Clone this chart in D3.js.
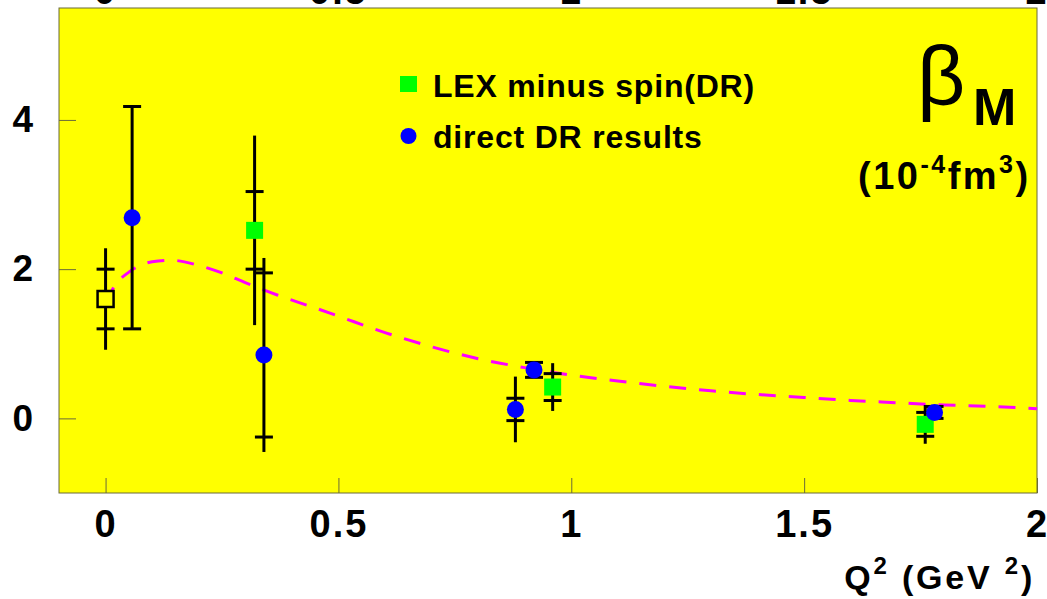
<!DOCTYPE html>
<html>
<head>
<meta charset="utf-8">
<script src="https://cdn.jsdelivr.net/npm/d3@7"></script>
<style>
  body { margin: 0; background: #fff; }
  text { font-family: "Liberation Sans", Arial, Helvetica, sans-serif; }
</style>
</head>
<body>
<svg id="chart"></svg>
<script>
// tick values
let xTicks = [0, 0.5, 1, 1.5, 2]
let yTicks = [0, 2, 4]

// open square at Q2 = 0
let realQ2 = [0]
let realBeta = [1.6]
let realStat = [0.4]
let realTot = [0.68]

// LEX minus spin(DR)
let lexQ2 = [0.32, 0.96, 1.76]
let lexBeta = [2.52, 0.42, -0.08]
let lexStat = [0.52, 0.18, 0.16]
let lexTot = [1.27, 0.32, 0.26]

// direct DR results
let drQ2 = [0.057, 0.34, 0.88, 0.92, 1.78]
let drBeta = [2.69, 0.85, 0.12, 0.65, 0.08]
let drStat = [1.49, 1.1, 0.15, 0.1, 0.08]
let drTot = [1.49, 1.3, 0.44, 0.1, 0.08]

// dashed DR curve
let curveQ2 = [0, 0.02, 0.05, 0.1, 0.14, 0.2, 0.25, 0.3, 0.37, 0.45, 0.5, 0.6, 0.7, 0.8, 0.9, 1.0, 1.1, 1.2, 1.3, 1.4, 1.5, 1.6, 1.7, 1.8, 1.9, 2.0]
let curveBeta = [1.55, 1.78, 1.96, 2.1, 2.12, 2.05, 1.95, 1.82, 1.65, 1.48, 1.37, 1.15, 0.96, 0.8, 0.68, 0.58, 0.5, 0.43, 0.37, 0.32, 0.28, 0.24, 0.21, 0.18, 0.16, 0.13]

let svgWidth = 1047, svgHeight = 599
let padLeft = 59, padRight = 1037, padTop = 8, padBottom = 493

let svg = d3.select('#chart')
  .attr("width", svgWidth)
  .attr("height", svgHeight)

let x = d3.scaleLinear().domain([-0.1, 2.0]).range([padLeft, padRight])
let y = d3.scaleLinear().domain([-1, 5.5]).range([padBottom, padTop])

// tick labels of the panel above, only their bottoms show
svg.selectAll("text.topLab")
  .data(xTicks)
  .enter()
  .append("text")
  .attr("class", "topLab")
  .attr("x", d => x(d))
  .attr("y", 4)
  .attr("text-anchor", "middle")
  .attr("font-size", 38)
  .attr("font-weight", "bold")
  .attr("letter-spacing", 2)
  .text(d => d)

// frame
svg.append("rect")
  .attr("x", padLeft).attr("y", padTop)
  .attr("width", padRight - padLeft).attr("height", padBottom - padTop)
  .attr("fill", "#ffff00")
  .attr("stroke", "#6b6b3a")
  .attr("stroke-width", 1)

// axes
let xAxis = d3.axisBottom(x).tickValues(xTicks).tickSize(-15).tickPadding(17).tickFormat(d3.format("~g"))
let yAxis = d3.axisLeft(y).tickValues(yTicks).tickSize(-17).tickPadding(26).tickFormat(d3.format("d"))

let gx = svg.append("g").attr("transform", "translate(0," + padBottom + ")").call(xAxis)
let gy = svg.append("g").attr("transform", "translate(" + padLeft + ",0)").call(yAxis)

for (let g of [gx, gy]) {
  g.select(".domain").remove()
  g.selectAll(".tick line").attr("stroke", "#6b6b3a").attr("stroke-width", 1)
  g.selectAll(".tick text")
    .attr("font-size", 37)
    .attr("font-weight", "bold")
    .attr("fill", "#000")
    .style("font-family", '"Liberation Sans", Arial, sans-serif')
}
gx.selectAll(".tick text").attr("font-size", 38).attr("letter-spacing", 2)

// dashed curve
let curvePts = curveQ2.map((q, i) => [q, curveBeta[i]])
let line = d3.line()
  .x(d => x(d[0]))
  .y(d => y(d[1]))
  .curve(d3.curveMonotoneX)

svg.append("path")
  .datum(curvePts)
  .attr("d", line)
  .attr("fill", "none")
  .attr("stroke", "#ff00ff")
  .attr("stroke-width", 3)
  .attr("stroke-dasharray", "17 13")

// error bars: line spans total error, crossbars at stat error
function errorBars(qs, vals, stat, tot) {
  let rows = qs.map((q, i) => ({q: q, v: vals[i], s: stat[i], t: tot[i]}))
  let g = svg.append("g").attr("stroke", "#000").attr("stroke-width", 3)
  g.selectAll("line.v")
    .data(rows)
    .enter()
    .append("line")
    .attr("x1", d => x(d.q)).attr("x2", d => x(d.q))
    .attr("y1", d => y(d.v + d.t)).attr("y2", d => y(d.v - d.t))
  for (let sign of [1, -1]) {
    g.selectAll("line.c" + sign)
      .data(rows)
      .enter()
      .append("line")
      .attr("x1", d => x(d.q) - 9).attr("x2", d => x(d.q) + 9)
      .attr("y1", d => y(d.v + sign * d.s)).attr("y2", d => y(d.v + sign * d.s))
  }
}

errorBars(realQ2, realBeta, realStat, realTot)
errorBars(lexQ2, lexBeta, lexStat, lexTot)
errorBars(drQ2, drBeta, drStat, drTot)

// markers
svg.selectAll("rect.real")
  .data(realQ2)
  .enter()
  .append("rect")
  .attr("x", d => x(d) - 8).attr("y", (d, i) => y(realBeta[i]) - 8)
  .attr("width", 16).attr("height", 16)
  .attr("fill", "#ffff00")
  .attr("stroke", "#000")
  .attr("stroke-width", 2.5)

svg.selectAll("rect.lex")
  .data(lexQ2)
  .enter()
  .append("rect")
  .attr("x", d => x(d) - 8.5).attr("y", (d, i) => y(lexBeta[i]) - 8.5)
  .attr("width", 17).attr("height", 17)
  .attr("fill", "#00ff00")

svg.selectAll("circle.dr")
  .data(drQ2)
  .enter()
  .append("circle")
  .attr("cx", d => x(d)).attr("cy", (d, i) => y(drBeta[i]))
  .attr("r", 8.5)
  .attr("fill", "#0000ff")

// legend
svg.append("rect")
  .attr("x", 400).attr("y", 76).attr("width", 17).attr("height", 16)
  .attr("fill", "#00ff00")
svg.append("circle")
  .attr("cx", 408.5).attr("cy", 136).attr("r", 8)
  .attr("fill", "#0000ff")

svg.append("text")
  .attr("x", 433).attr("y", 97)
  .attr("font-size", 32).attr("font-weight", "bold")
  .attr("letter-spacing", 0.8)
  .text("LEX minus spin(DR)")
svg.append("text")
  .attr("x", 433).attr("y", 148)
  .attr("font-size", 32).attr("font-weight", "bold")
  .attr("letter-spacing", 0.8)
  .text("direct DR results")

// beta_M label
svg.append("text")
  .attr("x", 917).attr("y", 105)
  .attr("font-size", 84)
  .text("β")
svg.append("text")
  .attr("x", 973).attr("y", 125)
  .attr("font-size", 52).attr("font-weight", "bold")
  .text("M")

let unit = svg.append("text")
  .attr("x", 858).attr("y", 189)
  .attr("font-size", 38).attr("font-weight", "bold")
  .attr("letter-spacing", 2.5)
unit.append("tspan").text("(10")
unit.append("tspan").attr("font-size", 25).attr("dy", -16).text("-4")
unit.append("tspan").attr("dy", 16).text("fm")
unit.append("tspan").attr("font-size", 25).attr("dy", -16).text("3")
unit.append("tspan").attr("dy", 16).text(")")

// x axis title
let xt = svg.append("text")
  .attr("x", 1035).attr("y", 589)
  .attr("text-anchor", "end")
  .attr("font-size", 34).attr("font-weight", "bold")
  .attr("letter-spacing", 2.8)
xt.append("tspan").text("Q")
xt.append("tspan").attr("font-size", 24).attr("dy", -15).text("2")
xt.append("tspan").attr("dy", 15).text(" (GeV ")
xt.append("tspan").attr("font-size", 24).attr("dy", -15).text("2")
xt.append("tspan").attr("dy", 15).text(")")
</script>
</body>
</html>
